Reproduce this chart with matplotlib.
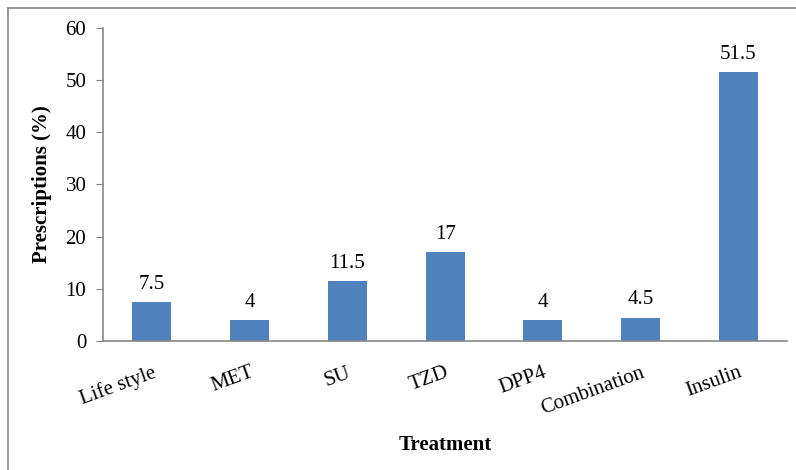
import matplotlib.pyplot as plt
from matplotlib.lines import Line2D

# данные с графика
treatments = ['Life style', 'MET', 'SU', 'TZD', 'DPP4', 'Combination', 'Insulin']
prescriptions = [7.5, 4, 11.5, 17, 4, 4.5, 51.5]
y_ticks = [0, 10, 20, 30, 40, 50, 60]

plt.rcParams['font.family'] = ['Liberation Serif', 'DejaVu Serif']

fig = plt.figure(figsize=(7.96, 4.70), dpi=100)
ax = fig.add_axes([0.1294, 0.2745, 0.8596, 0.6661])

x = range(len(treatments))
bars = ax.bar(x, prescriptions, width=0.4, color='#4F81BD')
ax.bar_label(bars, labels=[f'{v:g}' for v in prescriptions], padding=6, fontsize=15)

ax.set_xlim(-0.5, len(treatments) - 0.5)
ax.set_ylim(0, 60)
ax.set_yticks(y_ticks)
ax.set_xticks(list(x))
ax.set_xticklabels(treatments, rotation=20, ha='right', va='top',
                   rotation_mode='anchor', fontsize=15)

grey = '#868686'
for side in ['top', 'right']:
    ax.spines[side].set_visible(False)
for side in ['left', 'bottom']:
    ax.spines[side].set_color(grey)
    ax.spines[side].set_linewidth(1.2)
ax.tick_params(axis='y', length=5, color=grey, labelsize=15, pad=7)
ax.tick_params(axis='x', length=0, pad=16)

ax.set_ylabel('Prescriptions (%)', fontsize=15, fontweight='bold', labelpad=10)
ax.set_xlabel('Treatment', fontsize=15, fontweight='bold', labelpad=12)

# рамка всей картинки (видны только верх и левый край)
fig.add_artist(Line2D([8 / 796, 8 / 796], [0, 1 - 8 / 470], color=grey, lw=1.2))
fig.add_artist(Line2D([8 / 796, 1], [1 - 8 / 470, 1 - 8 / 470], color=grey, lw=1.2))

fig.savefig('out.png', dpi=100)
